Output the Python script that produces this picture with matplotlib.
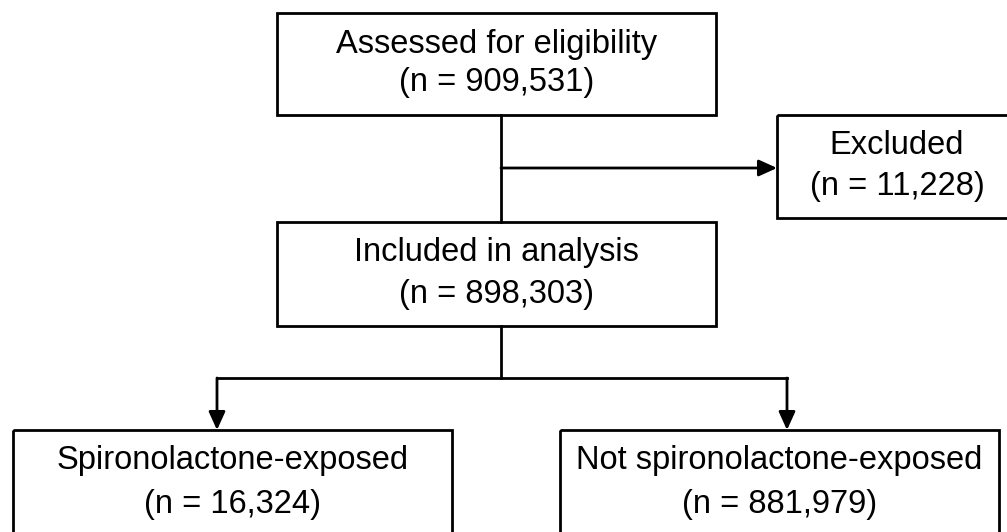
import matplotlib.pyplot as plt
from matplotlib.patches import Rectangle

plt.rcParams['font.family'] = ['Liberation Sans', 'DejaVu Sans']

# Flowchart content
labels = ["Assessed for eligibility", "Excluded", "Included in analysis",
          "Spironolactone-exposed", "Not spironolactone-exposed"]
counts = [909531, 11228, 898303, 16324, 881979]

# Box layout in pixel units: (left, top, right, bottom)
boxes = [
    (277, 13, 716, 115),
    (777, 115, 1012, 218),
    (277, 222, 716, 326),
    (13, 430, 452, 560),
    (560, 430, 999, 560),
]
# text line centres (y) for each box
text_y = [(44, 82), (146, 186), (253, 294), (460, 504), (460, 504)]

fig = plt.figure(figsize=(10.07, 5.32), dpi=100)
ax = fig.add_axes([0, 0, 1, 1])
ax.set_xlim(0, 1007)
ax.set_ylim(532, 0)
ax.axis('off')

lw = 2.0
for (x0, y0, x1, y1), lab, n, (ty1, ty2) in zip(boxes, labels, counts, text_y):
    ax.add_patch(Rectangle((x0, y0), x1 - x0, y1 - y0, fill=False,
                           edgecolor='black', linewidth=lw))
    cx = (x0 + x1) / 2
    if x1 > 1007:
        cx = 897
    ax.text(cx, ty1, lab, ha='center', va='center', fontsize=23.5)
    ax.text(cx, ty2, "(n = {:,})".format(n), ha='center', va='center', fontsize=23.5)

arrow = dict(arrowstyle='-|>,head_length=1.1,head_width=0.5', color='black',
             linewidth=lw, shrinkA=0, shrinkB=0)

# box 1 -> box 2 with branch to excluded
ax.plot([501, 501], [115, 222], color='black', linewidth=lw)
ax.annotate('', xy=(777, 168), xytext=(501, 168), arrowprops=arrow)

# box 2 -> split
ax.plot([501, 501], [326, 378], color='black', linewidth=lw)
ax.plot([217, 787], [378, 378], color='black', linewidth=lw, solid_capstyle='projecting')
ax.annotate('', xy=(217, 430), xytext=(217, 378), arrowprops=arrow)
ax.annotate('', xy=(787, 430), xytext=(787, 378), arrowprops=arrow)

fig.savefig('out.png', dpi=100)
